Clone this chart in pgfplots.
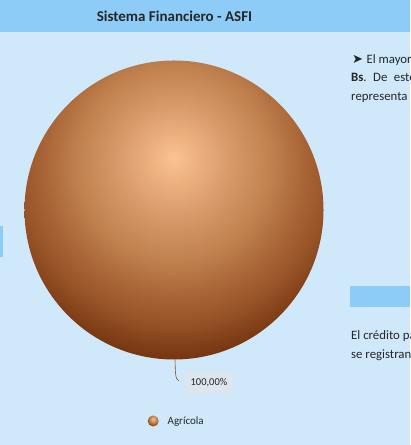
\documentclass[border=0pt]{standalone}
\usepackage{fontspec}
\setmainfont{Carlito}
\newfontfamily\symfont{DejaVu Sans}
\usepackage{pgfplots}
\pgfplotsset{compat=1.18}
\definecolor{bgblue}{HTML}{CFE9FB}
\definecolor{hdrblue}{HTML}{8ECCF8}
\definecolor{lblbox}{HTML}{DDE6EF}
\definecolor{txt}{HTML}{262626}
\definecolor{pA}{HTML}{FCC291}
\definecolor{pB}{HTML}{DA9C6C}
\definecolor{pC}{HTML}{C0814F}
\definecolor{pD}{HTML}{AA6638}
\definecolor{pE}{HTML}{985428}
\definecolor{pF}{HTML}{83411A}
\definecolor{pG}{HTML}{6A2A05}
\definecolor{leader}{HTML}{8A4A22}
\pgfdeclareradialshading{pieshade}{\pgfpoint{0bp}{8.75bp}}{%
  color(0bp)=(pA); color(8.75bp)=(pB); color(16.25bp)=(pC); color(21.5bp)=(pD);
  color(26bp)=(pE); color(29.5bp)=(pF); color(34bp)=(pG); color(150bp)=(pG)}
\pgfdeclareplotmark{pieball}{%
  \pgfpathcircle{\pgfpointorigin}{\pgfplotmarksize}%
  \pgfshadepath{pieshade}{0}%
  \pgfusepath{}}
\begin{document}
\begin{tikzpicture}[x=1bp,y=1bp]
\useasboundingbox (0,0) rectangle (410,445);
\clip (0,0) rectangle (410,445);
\fill[bgblue] (0,0) rectangle (410,445);
\fill[hdrblue] (0,413) rectangle (410,445);
\fill[hdrblue] (0,188) rectangle (2.5,219);
\fill[hdrblue] (350,138) rectangle (410,159);
\node[font=\fontsize{15bp}{17bp}\selectfont\bfseries, text=txt, inner sep=0pt] at (174.5,429) {Sistema Financiero - ASFI};
\begin{axis}[
  at={(0,0)}, anchor=south west,
  scale only axis, width=410bp, height=445bp,
  xmin=0, xmax=410, ymin=0, ymax=445,
  hide axis, clip=false,
  legend style={at={(axis cs:147.5,24)}, anchor=west, draw=none, fill=none,
    inner sep=0pt, font=\fontsize{11bp}{13bp}\selectfont, text=txt},
  legend image code/.code={%
    \pgfpathrectangle{\pgfpoint{-5.5bp}{-5.5bp}}{\pgfpoint{18bp}{11bp}}\pgfusepath{discard}%
    \draw[#1, mark size=5.5bp] plot coordinates {(0bp,0bp)};},
]
\addplot[only marks, mark=pieball, mark size=149.5bp] coordinates {(174,235)};
\addlegendentry{Agrícola}
\draw[leader, line width=0.6bp] (axis cs:175,85.5) .. controls (axis cs:175.5,72) and (axis cs:175,66) .. (axis cs:179,64);
\fill[lblbox] (axis cs:185,51) rectangle (axis cs:233,73);
\node[font=\fontsize{10.5bp}{12bp}\selectfont, text=txt, inner sep=0pt] at (axis cs:209,62) {100,00\%};
\end{axis}
\begin{scope}[font=\fontsize{12.8bp}{15bp}\selectfont, text=txt]
\node[anchor=base west, inner sep=0pt] at (352,381) {{\symfont\fontsize{13bp}{15bp}\selectfont ➤}\hspace{3.5bp}El mayor porcentaje};
\node[anchor=base west, inner sep=0pt] at (351,363) {\textbf{Bs}.\hspace{6.5bp}De\hspace{6.5bp}este total};
\node[anchor=base west, inner sep=0pt] at (351,344) {representa 100};
\node[anchor=base west, inner sep=0pt] at (351,105) {El crédito para};
\node[anchor=base west, inner sep=0pt] at (351,86) {se registran en};
\end{scope}
\end{tikzpicture}
\end{document}
